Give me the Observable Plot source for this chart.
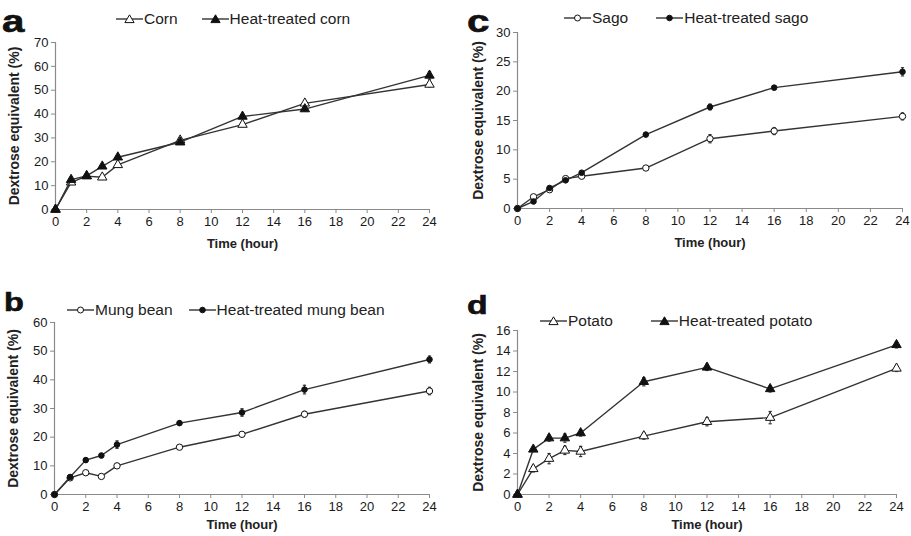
<!DOCTYPE html>
<html>
<head>
<meta charset="utf-8">
<script src="https://cdn.jsdelivr.net/npm/d3@7"></script>
<script src="https://cdn.jsdelivr.net/npm/@observablehq/plot@0.6"></script>
<style>
  html, body { margin: 0; padding: 0; background: #fff; }
  #root { position: relative; width: 911px; height: 536px; overflow: hidden; font-family: "Liberation Sans", Arial, sans-serif; }
  .panel { position: absolute; }
  .legend { position: absolute; display: flex; align-items: center; font-size: 15.5px; color: #222; white-space: nowrap; }
  .legend .item { display: flex; align-items: center; }
  .legend svg { display: block; }
  #letters { position: absolute; left: 0; top: 0; pointer-events: none; }
  svg g[aria-label="x-axis label"] text, svg g[aria-label="y-axis label"] text { font-weight: bold; }
  svg g[aria-label="y-axis label"] text { font-size: 14px; }
  svg g[aria-label="x-axis tick label"] text, svg g[aria-label="y-axis tick label"] text { fill: #1a1a1a; }
</style>
</head>
<body>
<div id="root"></div>
<script>
// ---------- data ----------
const hours = [0, 1, 2, 3, 4, 8, 12, 16, 24];
const xTicks = [0, 2, 4, 6, 8, 10, 12, 14, 16, 18, 20, 22, 24];

// Panel a: corn
const corn        = [0, 11.4, 14.0, 13.5, 18.7, 29.0, 35.6, 44.5, 52.4];
const cornErr     = [0, 0.8, 0.6, 0.8, 1.0, 1.0, 0.8, 0.8, 1.0];
const htCorn      = [0, 12.5, 14.1, 18.1, 21.9, 28.2, 39.0, 42.1, 56.2];
const htCornErr   = [0, 0.7, 0.7, 0.8, 0.9, 0.8, 0.8, 0.8, 1.6];
const yTicksA     = [0, 10, 20, 30, 40, 50, 60, 70];

// Panel b: mung bean
const mung        = [0, 5.8, 7.6, 6.3, 10.0, 16.5, 21.0, 28.0, 36.1];
const mungErr     = [0, 0.5, 0.6, 0.6, 0.6, 0.6, 0.8, 1.0, 1.3];
const htMung      = [0, 6.1, 12.0, 13.6, 17.4, 24.9, 28.6, 36.6, 47.1];
const htMungErr   = [0, 0.5, 0.7, 0.7, 1.3, 0.7, 1.3, 1.5, 1.2];
const yTicksB     = [0, 10, 20, 30, 40, 50, 60];

// Panel c: sago
const sago        = [0, 2.0, 3.2, 5.1, 5.5, 6.9, 11.9, 13.2, 15.7];
const sagoErr     = [0, 0.2, 0.2, 0.2, 0.3, 0.3, 0.7, 0.6, 0.6];
const htSago      = [0, 1.2, 3.5, 4.8, 6.1, 12.6, 17.3, 20.6, 23.3];
const htSagoErr   = [0, 0.2, 0.2, 0.2, 0.2, 0.3, 0.5, 0.3, 0.7];
const yTicksC     = [0, 5, 10, 15, 20, 25, 30];

// Panel d: potato
const potato      = [0, 2.5, 3.5, 4.3, 4.2, 5.7, 7.1, 7.5, 12.3];
const potatoErr   = [0, 0.3, 0.5, 0.4, 0.5, 0.3, 0.4, 0.6, 0.3];
const htPotato    = [0, 4.4, 5.5, 5.5, 6.0, 11.0, 12.4, 10.3, 14.6];
const htPotatoErr = [0, 0.2, 0.3, 0.4, 0.3, 0.4, 0.3, 0.3, 0.3];
const yTicksD     = [0, 2, 4, 6, 8, 10, 12, 14, 16];

const panelLetters = ["a", "b", "c", "d"];

// ---------- helpers ----------
const LINE = "#333";
const AXIS = "#8a8a8a";
const capSymbol = {
  draw(ctx, size) {
    const r = Math.sqrt(size / Math.PI);
    ctx.moveTo(-r, 0);
    ctx.lineTo(r, 0);
  }
};

function series(name, values, errs) {
  return hours.map((h, i) => ({ name, x: h, y: values[i], lo: values[i] - errs[i], hi: values[i] + errs[i] }));
}

function seriesMarks(rows, symbol, fill, r) {
  const eb = rows.filter(d => d.hi > d.lo);
  return [
    Plot.ruleX(eb, { x: "x", y1: "lo", y2: "hi", stroke: LINE, strokeWidth: 1 }),
    Plot.dot(eb, { x: "x", y: "lo", symbol: capSymbol, r: 1.6, stroke: LINE, strokeWidth: 1.2 }),
    Plot.dot(eb, { x: "x", y: "hi", symbol: capSymbol, r: 1.6, stroke: LINE, strokeWidth: 1.2 }),
    Plot.line(rows, { x: "x", y: "y", stroke: LINE, strokeWidth: 1.4 }),
    Plot.dot(rows, { x: "x", y: "y", symbol, r, fill, stroke: "#111", strokeWidth: 1 })
  ];
}

function panel({ left, top, width, height, margins, yDomain, yTicks, s1, s2, ylabelOffset, xlabelOffset }) {
  const chart = Plot.plot({
    width, height,
    marginLeft: margins[0], marginRight: margins[1], marginTop: margins[2], marginBottom: margins[3],
    style: { fontFamily: "'Liberation Sans', Arial, sans-serif", fontSize: "13px", color: "#222", background: "#fff" },
    x: { domain: [0, 24] },
    y: { domain: yDomain },
    marks: [
      Plot.ruleX([0], { stroke: AXIS, strokeWidth: 1.2 }),
      Plot.ruleY([0], { stroke: AXIS, strokeWidth: 1.2 }),
      Plot.axisX({ ticks: xTicks, tickSize: 4, tickPadding: 3, stroke: AXIS, tickFormat: d => d,
        label: "Time (hour)", labelAnchor: "center", labelArrow: "none", labelOffset: xlabelOffset, fontSize: 13 }),
      Plot.axisY({ ticks: yTicks, tickSize: 4, tickPadding: 3, stroke: AXIS, tickFormat: d => d,
        label: "Dextrose equivalent (%)", labelAnchor: "center", labelArrow: "none", labelOffset: ylabelOffset, fontSize: 13 }),
      ...s1, ...s2
    ]
  });
  const div = document.createElement("div");
  div.className = "panel";
  div.style.left = left + "px";
  div.style.top = top + "px";
  div.appendChild(chart);
  return div;
}

function swatch(symbol, fill) {
  const w = 27, h = 14, cx = 13.5, cy = 7;
  let marker = "";
  if (symbol === "triangle") {
    marker = `<path d="M${cx},${cy - 4.2}L${cx + 4.6},${cy + 3.6}L${cx - 4.6},${cy + 3.6}Z" fill="${fill}" stroke="#111" stroke-width="1"/>`;
  } else {
    marker = `<circle cx="${cx}" cy="${cy}" r="${fill === "white" ? 3 : 2.8}" fill="${fill}" stroke="#111" stroke-width="1"/>`;
  }
  return `<svg width="${w}" height="${h}"><line x1="0" x2="${w}" y1="${cy}" y2="${cy}" stroke="${LINE}" stroke-width="1.4"/>${marker}</svg>`;
}

function legend(left, top, items, gap) {
  const div = document.createElement("div");
  div.className = "legend";
  div.style.left = left + "px";
  div.style.top = top + "px";
  div.innerHTML = items.map((it, i) =>
    `<span class="item" style="margin-left:${i ? gap : 0}px">${swatch(it.symbol, it.fill)}<span style="margin-left:1px">${it.label}</span></span>`
  ).join("");
  return div;
}

// ---------- build ----------
const root = document.getElementById("root");

root.appendChild(panel({
  left: 0, top: 0, width: 455, height: 268, margins: [55, 26, 42, 59],
  yDomain: [0, 70], yTicks: yTicksA, ylabelOffset: 46, xlabelOffset: 38,
  s1: seriesMarks(series("Corn", corn, cornErr), "triangle", "white", 3.5),
  s2: seriesMarks(series("Heat-treated corn", htCorn, htCornErr), "triangle", "#111", 3.5)
}));

root.appendChild(panel({
  left: 455, top: 0, width: 456, height: 268, margins: [62, 9, 32, 60],
  yDomain: [0, 30], yTicks: yTicksC, ylabelOffset: 44, xlabelOffset: 38,
  s1: seriesMarks(series("Sago", sago, sagoErr), "circle", "white", 3.2),
  s2: seriesMarks(series("Heat-treated sago", htSago, htSagoErr), "circle", "#111", 2.8)
}));

root.appendChild(panel({
  left: 0, top: 268, width: 455, height: 268, margins: [54, 26, 54, 42],
  yDomain: [0, 60], yTicks: yTicksB, ylabelOffset: 46, xlabelOffset: 34,
  s1: seriesMarks(series("Mung bean", mung, mungErr), "circle", "white", 3.2),
  s2: seriesMarks(series("Heat-treated mung bean", htMung, htMungErr), "circle", "#111", 2.8)
}));

root.appendChild(panel({
  left: 455, top: 268, width: 456, height: 268, margins: [62, 15, 62, 42],
  yDomain: [0, 16], yTicks: yTicksD, ylabelOffset: 44, xlabelOffset: 34,
  s1: seriesMarks(series("Potato", potato, potatoErr), "triangle", "white", 3.5),
  s2: seriesMarks(series("Heat-treated potato", htPotato, htPotatoErr), "triangle", "#111", 3.5)
}));

root.appendChild(legend(116, 10, [
  { symbol: "triangle", fill: "white", label: "Corn" },
  { symbol: "triangle", fill: "#111", label: "Heat-treated corn" }
], 24));
root.appendChild(legend(564, 9, [
  { symbol: "circle", fill: "white", label: "Sago" },
  { symbol: "circle", fill: "#111", label: "Heat-treated sago" }
], 28));
root.appendChild(legend(67, 301, [
  { symbol: "circle", fill: "white", label: "Mung bean" },
  { symbol: "circle", fill: "#111", label: "Heat-treated mung bean" }
], 16));
root.appendChild(legend(540, 312, [
  { symbol: "triangle", fill: "white", label: "Potato" },
  { symbol: "triangle", fill: "#111", label: "Heat-treated potato" }
], 38));

// panel letters (baseline positions)
const letterSpecs = [
  { ch: panelLetters[0], x: 2,   y: 32,  size: 31 },
  { ch: panelLetters[1], x: 4,   y: 311, size: 25 },
  { ch: panelLetters[2], x: 467, y: 32,  size: 31 },
  { ch: panelLetters[3], x: 467, y: 314, size: 26 }
];
const ns = "http://www.w3.org/2000/svg";
const lsvg = document.createElementNS(ns, "svg");
lsvg.setAttribute("id", "letters");
lsvg.setAttribute("width", 911);
lsvg.setAttribute("height", 536);
for (const s of letterSpecs) {
  const t = document.createElementNS(ns, "text");
  t.setAttribute("transform", `translate(${s.x},${s.y}) scale(1.3,1)`);
  t.setAttribute("font-family", "'Liberation Sans', Arial, sans-serif");
  t.setAttribute("font-weight", "bold");
  t.setAttribute("font-size", s.size);
  t.setAttribute("fill", "#111");
  t.setAttribute("stroke", "#111");
  t.setAttribute("stroke-width", "0.6");
  t.textContent = s.ch;
  lsvg.appendChild(t);
}
root.appendChild(lsvg);
</script>
</body>
</html>
